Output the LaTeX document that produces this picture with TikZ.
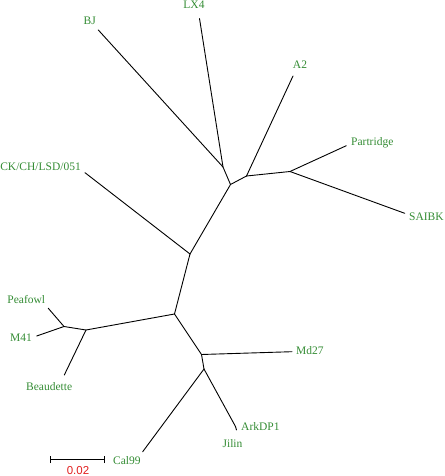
\documentclass[tikz,border=0pt]{standalone}
\usepackage{fontspec}
\setmainfont{Liberation Serif}
\newfontfamily\barfont{Liberation Sans}
\definecolor{leafgreen}{RGB}{52,140,52}
\definecolor{barred}{RGB}{225,30,30}
\begin{document}
\begin{tikzpicture}[x=1pt,y=-1pt,
  branch/.style={draw=black,line width=0.9pt,line cap=round,line join=round},
  leaf/.style={text=leafgreen,font=\fontsize{11.5}{12}\selectfont,inner sep=0pt},
  barlabel/.style={text=barred,font=\barfont\fontsize{11.5}{12}\selectfont,inner sep=0pt}]
\useasboundingbox (0,0) rectangle (444,476);
% internal nodes
\coordinate (nLB) at (223,167);
\coordinate (n1) at (230.5,184.5);
\coordinate (nA) at (246.5,176);
\coordinate (nPS) at (290,171.5);
\coordinate (n2) at (190,254);
\coordinate (n3) at (174.5,314);
\coordinate (nP) at (64,326.5);
\coordinate (nB) at (86,330);
\coordinate (nM) at (201.5,354.5);
\coordinate (nJ) at (204,369);
\coordinate (nAJ) at (235.5,426.5);
% leaf tips
\coordinate (tBJ) at (98.3,30);
\coordinate (tLX) at (199.5,18.5);
\coordinate (tA2) at (293,76);
\coordinate (tPa) at (346.3,145.7);
\coordinate (tSA) at (404.7,213.3);
\coordinate (tCK) at (85,172.7);
\coordinate (tPe) at (48.3,308.3);
\coordinate (tM4) at (36.7,336);
\coordinate (tBe) at (64.3,375);
\coordinate (tMd) at (292,351.7);
\coordinate (tCa) at (142.7,451.7);
\coordinate (tJi) at (236.5,430);
% branches
\path[branch] (nLB) -- (tBJ);
\path[branch] (nLB) -- (tLX);
\path[branch] (nLB) -- (n1);
\path[branch] (n1) -- (nA);
\path[branch] (nA) -- (tA2);
\path[branch] (nA) -- (nPS);
\path[branch] (nPS) -- (tPa);
\path[branch] (nPS) -- (tSA);
\path[branch] (n1) -- (n2);
\path[branch] (n2) -- (tCK);
\path[branch] (n2) -- (n3);
\path[branch] (n3) -- (nB);
\path[branch] (nB) -- (nP);
\path[branch] (nP) -- (tPe);
\path[branch] (nP) -- (tM4);
\path[branch] (nB) -- (tBe);
\path[branch] (n3) -- (nM);
\path[branch] (nM) -- (tMd);
\path[branch] (nM) -- (nJ);
\path[branch] (nJ) -- (tCa);
\path[branch] (nJ) -- (nAJ);
\path[branch] (nAJ) -- (tJi);
% labels
\node[leaf] (lBJ) at (89.7,21) {BJ};
\node[leaf] (lLX) at (194,5) {LX4};
\node[leaf] (lA2) at (300,64.3) {A2};
\node[leaf,anchor=west] (lPa) at (351,142.7) {Partridge};
\node[leaf,anchor=west] (lSA) at (409,216.7) {SAIBK};
\node[leaf,anchor=east] (lCK) at (81,166.7) {CK/CH/LSD/051};
\node[leaf] (lPe) at (26.3,299.3) {Peafowl};
\node[leaf] (lM4) at (21,337.7) {M41};
\node[leaf] (lBe) at (49.2,386.7) {Beaudette};
\node[leaf,anchor=west] (lMd) at (296,351) {Md27};
\node[leaf,anchor=west] (lAr) at (241,426.7) {ArkDP1};
\node[leaf] (lJi) at (232.5,443.3) {Jilin};
\node[leaf,anchor=west] (lCa) at (113,461) {Cal99};
% scale bar
\coordinate (sL) at (50,459.5);
\coordinate (sR) at (104,459.5);
\path[branch,line cap=butt] (sL) -- (sR);
\path[branch,line cap=butt] ([yshift=-3.5pt]sL) -- ([yshift=3.5pt]sL);
\path[branch,line cap=butt] ([yshift=-3.5pt]sR) -- ([yshift=3.5pt]sR);
\node[barlabel] (lSc) at (78,470.5) {0.02};
\end{tikzpicture}
\end{document}
